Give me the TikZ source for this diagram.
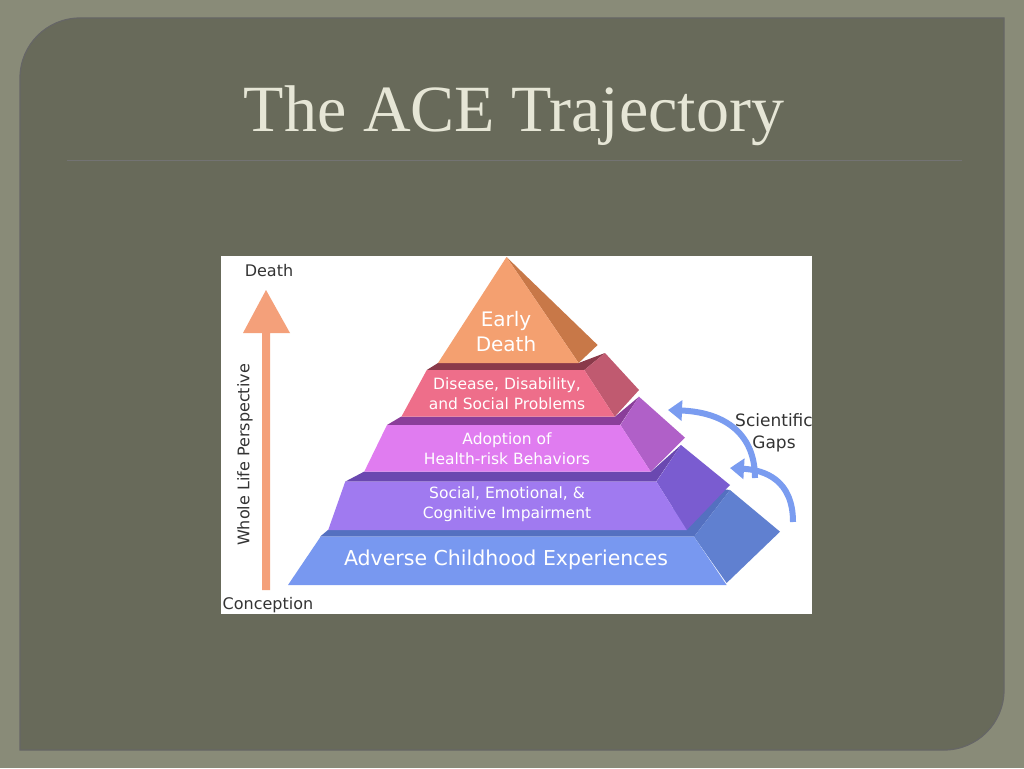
\documentclass[tikz,border=0pt]{standalone}
\usepackage{fontspec}
\setmainfont{Liberation Serif}
\newfontfamily\vfont{DejaVu Sans}
\usetikzlibrary{arrows.meta}
\definecolor{outerbg}{HTML}{898B78}
\definecolor{slidebg}{HTML}{686A5A}
\definecolor{titlec}{HTML}{E6E6D6}
\definecolor{aceT}{HTML}{5470C0}\definecolor{aceS}{HTML}{6080D0}\definecolor{aceF}{HTML}{7898F0}
\definecolor{socT}{HTML}{6A48B0}\definecolor{socS}{HTML}{7A5CD0}\definecolor{socF}{HTML}{A07AF0}
\definecolor{adoT}{HTML}{8A3E9A}\definecolor{adoS}{HTML}{B060C8}\definecolor{adoF}{HTML}{E07CF0}
\definecolor{disT}{HTML}{8A3A4A}\definecolor{disS}{HTML}{C05A70}\definecolor{disF}{HTML}{EE6E8A}
\definecolor{edS}{HTML}{C87848}\definecolor{edF}{HTML}{F4A070}
\definecolor{lifeC}{HTML}{F4A07A}\definecolor{gapC}{HTML}{7A9CF0}
\tikzset{lbl/.style={font=\vfont\fontsize{15.5}{20}\selectfont, text=white, align=center, inner sep=0pt},
 side/.style={font=\vfont\fontsize{16}{20}\selectfont, text=black!80, inner sep=0pt}}
\begin{document}
\begin{tikzpicture}[x=1pt,y=-1pt]
\useasboundingbox (0,0) rectangle (1024,768);
\fill[outerbg] (0,0) rectangle (1024,768);
\fill[slidebg, draw=black!60, line width=1.2pt] (80,18) -- (1004,18) -- (1004,690) arc[start angle=0,end angle=90,radius=60] -- (20,750) -- (20,78) arc[start angle=180,end angle=270,radius=60] -- cycle;
\node (title) [text=titlec, font=\fontsize{66}{68}\selectfont, preaction={transform canvas={shift={(2pt,-3pt)}}, text=black!70}] at (514,116) {The ACE Trajectory};
\draw[black!55, line width=1pt] (67,160) -- (962,160);
\fill[white] (221,256) rectangle (812,614);
\begin{scope}
\clip (221,256) rectangle (812,614);
% ACE layer
\fill[aceT] (320,536.7) -- (694,536.7) -- (730,490) -- (690,485) -- (656,530) -- (328,530) -- cycle;
\fill[aceS] (694,536.7) -- (730,490) -- (780,531.7) -- (726.6,583) -- cycle;
\fill[aceF] (320.6,536.7) -- (694,536.7) -- (726.6,585) -- (288,585) -- cycle;
% Social
\fill[socT] (345,481.7) -- (656,481.7) -- (681,445) -- (651,471.7) -- (364,471.7) -- cycle;
\fill[socS] (656.4,481.7) -- (681,445) -- (730,485) -- (686.8,530) -- cycle;
\fill[socF] (345.2,481.7) -- (656.4,481.7) -- (686.8,530) -- (328.2,530) -- cycle;
% Adoption
\fill[adoT] (387,425) -- (620,425) -- (639,396.7) -- (615,416.7) -- (401,416.7) -- cycle;
\fill[adoS] (620.4,425) -- (639,396.7) -- (685,437.7) -- (650.7,471.7) -- cycle;
\fill[adoF] (387,425) -- (620.4,425) -- (650.7,471.7) -- (364.2,471.7) -- cycle;
% Disease
\fill[disT] (426.8,370) -- (584.3,370) -- (605,353) -- (578.6,363) -- (438,363) -- cycle;
\fill[disS] (584.3,370) -- (605,353) -- (639,390) -- (614.7,416.7) -- cycle;
\fill[disF] (426.8,370) -- (584.3,370) -- (614.7,416.7) -- (401.4,416.7) -- cycle;
% Early death
\fill[edS] (506.5,257) -- (597.6,345) -- (578.6,363) -- cycle;
\fill[edF] (506.5,257) -- (578.6,363) -- (438,363) -- cycle;
\node (ed) [lbl, font=\vfont\fontsize{20}{25}\selectfont] at (506,332) {Early\\Death};
\node (dis) [lbl] at (507,394) {Disease, Disability,\\and Social Problems};
\node (adop) [lbl] at (507,449) {Adoption of\\Health-risk Behaviors};
\node (soc) [lbl] at (507,504) {Social, Emotional, \&\\Cognitive Impairment};
\node (ace) [lbl, font=\vfont\fontsize{20.5}{25}\selectfont] at (506,560) {Adverse Childhood Experiences};
% life arrow
\fill[lifeC] (262,590) -- (270,590) -- (270,333) -- (290,333) -- (266,290) -- (243,333) -- (262,333) -- cycle;
\node (death) [side] at (269,271) {Death};
\node (conc) [side] at (268,605) {Conception};
\node (whole) [side, rotate=90] at (245,455) {Whole Life Perspective};
% gaps arrows
\coordinate (g1s) at (755,478); \coordinate (g1e) at (668,410);
\coordinate (g2s) at (793,522); \coordinate (g2e) at (730,468);
\draw[gapC, line width=6pt, -{Triangle[length=14pt,width=20pt]}] (g1s) .. controls (755,430) and (720,412) .. (g1e);
\draw[gapC, line width=6pt, -{Triangle[length=14pt,width=20pt]}] (g2s) .. controls (793,480) and (765,470) .. (g2e);
\node (gaps) [side, align=center, font=\vfont\fontsize{17}{22}\selectfont] at (774,433) {Scientific\\Gaps};
\end{scope}
\end{tikzpicture}
\end{document}
